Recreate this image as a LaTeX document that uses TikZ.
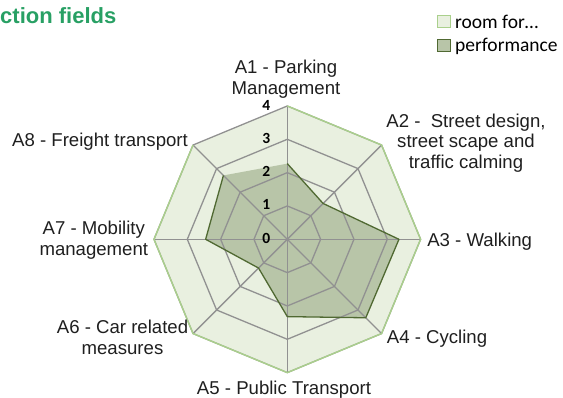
\documentclass[tikz,border=0pt]{standalone}
\usepackage{fontspec}
\setmainfont{Liberation Sans}
\newfontfamily\legendfont{Carlito}
\usetikzlibrary{positioning}

\definecolor{titlegreen}{RGB}{40,160,100}
\definecolor{roomfill}{RGB}{233,240,224}
\definecolor{roomline}{RGB}{170,208,140}
\definecolor{perffill}{RGB}{184,197,168}
\definecolor{perfline}{RGB}{80,105,50}
\definecolor{gridgray}{RGB}{145,145,145}

\begin{document}
\begin{tikzpicture}[x=1pt,y=1pt,
		axis label/.style={font=\fontsize{18.6}{20.8}\selectfont, align=center, text=black!88, inner sep=0pt},
		tick label/.style={font=\legendfont\bfseries\fontsize{15.5}{17}\selectfont, inner sep=0pt},
		legend box/.style={draw, line width=1pt, minimum width=13pt, minimum height=12pt, inner sep=0pt},
		legend text/.style={font=\legendfont\fontsize{19.5}{23}\selectfont, inner sep=0pt}]
		\useasboundingbox (-287.3,-158.7) rectangle (275.7,239.3);
		\def\u{33.33}
		
		% room for... (value 4 on every axis)
		\foreach \k/\a in {1/90,2/45,3/0,4/-45,5/-90,6/-135,7/180,8/135}
		\coordinate (r\k) at (\a:4*\u);
		\fill[roomfill] (r1) -- (r2) -- (r3) -- (r4) -- (r5) -- (r6) -- (r7) -- (r8) -- cycle;
		
		% performance
		\coordinate (p1) at (90:2.27*\u);
		\coordinate (p2) at (45:1.52*\u);
		\coordinate (p3) at (0:3.35*\u);
		\coordinate (p4) at (-45:3.33*\u);
		\coordinate (p5) at (-90:2.32*\u);
		\coordinate (p6) at (-135:1.22*\u);
		\coordinate (p7) at (180:2.45*\u);
		\coordinate (p8) at (135:2.71*\u);
		\fill[perffill] (p1) -- (p2) -- (p3) -- (p4) -- (p5) -- (p6) -- (p7) -- (p8) -- cycle;
		
		% grid
		\coordinate (c) at (0,0);
		\foreach \r in {1,2,3,4}
		\draw[gridgray, line width=1.3pt] (90:\r*\u) -- (45:\r*\u) -- (0:\r*\u) -- (-45:\r*\u) -- (-90:\r*\u) -- (-135:\r*\u) -- (180:\r*\u) -- (135:\r*\u) -- cycle;
		\foreach \k in {1,...,8}
		\draw[gridgray, line width=1.3pt] (c) -- (r\k);
		
		\draw[roomline, line width=1.4pt] (r1) -- (r2) -- (r3) -- (r4) -- (r5) -- (r6) -- (r7) -- (r8);
		\draw[perfline, line width=1.3pt, line join=round] (p1) -- (p2) -- (p3) -- (p4) -- (p5) -- (p6) -- (p7) -- (p8);
		
		\foreach \k in {0,...,4}
		\node[tick label] (t\k) at (-21,\k*\u+1) {\k};
		
		\node[axis label] (a1) at (-1.3,160) {A1 - Parking\\Management};
		\node[axis label] (a2) at (178.7,96.3) {A2 - \ Street design,\\street scape and\\traffic calming};
		\node[axis label] (a3) at (192.4,-2.2) {A3 - Walking};
		\node[axis label] (a4) at (149.7,-99.7) {A4 - Cycling};
		\node[axis label] (a5) at (-3.3,-150.4) {A5 - Public Transport};
		\node[axis label] (a6) at (-164.8,-97.7) {A6 - Car related\\measures};
		\node[axis label] (a7) at (-193.5,-0.5) {A7 - Mobility\\management};
		\node[axis label] (a8) at (-187.3,97.5) {A8 - Freight transport};
		
		\node[anchor=base west, inner sep=0pt, text=titlegreen, font=\bfseries\fontsize{22}{26}\selectfont] (title) at (-287.3,216) {ction fields};
		
		\node[legend box, draw=roomline, fill=roomfill] (roombox) at (156.7,217.3) {};
		\node[legend box, draw=perfline, fill=perffill] (perfbox) at (156.7,193.3) {};
		\node[legend text, right=4pt of roombox] (roomtext) {room for…};
		\node[legend text, right=4pt of perfbox] (perftext) {performance};
		
\end{tikzpicture}
\end{document}
